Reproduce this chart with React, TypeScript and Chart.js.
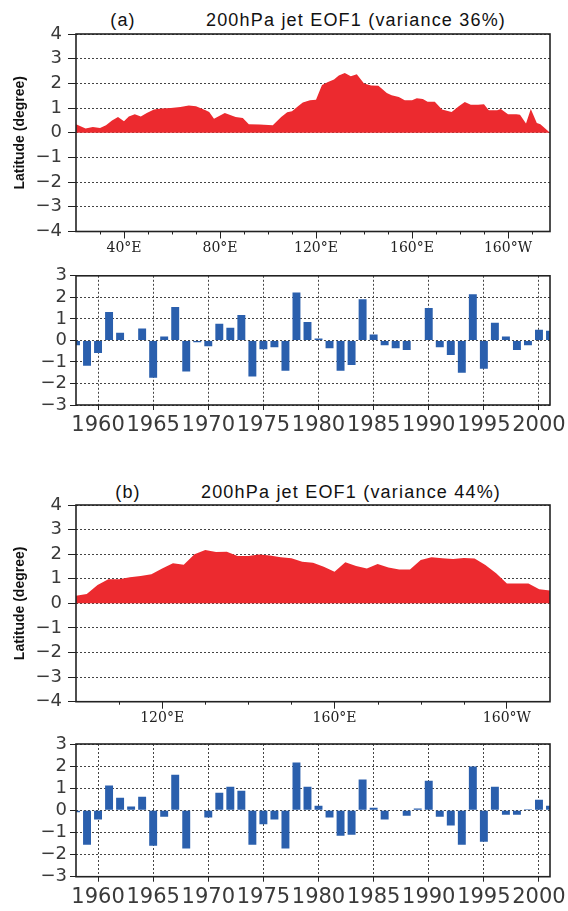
import React, { useEffect, useRef } from "react";
import { Chart, registerables } from "chart.js";

Chart.register(...registerables);

// ---------- data ----------
const lonA = [20, 24, 27, 30, 32.5, 35, 37.5, 40, 42, 44.5, 47, 49.5, 52.5, 55.5, 59.5, 63.5, 67, 70, 74, 75.5, 77.5, 82, 86.5, 89.5, 92, 96.5, 102, 105.5, 108, 110, 112.5, 114.5, 117.5, 120, 122.5, 125, 127.5, 129.5, 132, 134.5, 137, 140, 143, 146, 149.5, 151.5, 154.5, 157, 160, 162, 164.5, 166.5, 169.5, 172.5, 176.5, 179.5, 182, 184.5, 187.5, 190, 192, 195.5, 197, 200, 203.5, 205, 207.5, 209.5, 212, 213.5, 217.5];
const eofA = [0.34, 0.17, 0.23, 0.19, 0.3, 0.5, 0.64, 0.47, 0.66, 0.75, 0.66, 0.8, 0.94, 0.98, 1.0, 1.04, 1.1, 1.07, 0.91, 0.84, 0.57, 0.8, 0.64, 0.6, 0.34, 0.33, 0.3, 0.64, 0.83, 0.87, 1.07, 1.23, 1.32, 1.34, 1.93, 2.06, 2.16, 2.32, 2.42, 2.29, 2.37, 2.0, 1.91, 1.9, 1.61, 1.52, 1.45, 1.32, 1.32, 1.4, 1.37, 1.26, 1.26, 0.94, 0.84, 1.07, 1.25, 1.13, 1.13, 1.15, 0.91, 0.91, 0.96, 0.75, 0.75, 0.73, 0.37, 0.96, 0.39, 0.34, 0.0];

const lonB = [100, 102.5, 105, 107.5, 110, 112.5, 115, 117.5, 120, 122.5, 125, 127.5, 130, 132.5, 135, 137.5, 140, 142.5, 145, 147.5, 150, 152.5, 155, 157.5, 160, 162.5, 165, 167.5, 170, 172.5, 175, 177.5, 180, 182.5, 185, 187.5, 190, 192.5, 195, 197.5, 200, 202.5, 205, 207.5, 210];
const eofB = [0.31, 0.38, 0.75, 0.98, 0.98, 1.06, 1.11, 1.18, 1.42, 1.63, 1.57, 2.0, 2.17, 2.09, 2.1, 1.93, 1.93, 1.99, 1.95, 1.87, 1.83, 1.69, 1.65, 1.49, 1.29, 1.67, 1.52, 1.42, 1.6, 1.46, 1.38, 1.38, 1.76, 1.87, 1.83, 1.8, 1.84, 1.82, 1.56, 1.22, 0.81, 0.81, 0.81, 0.57, 0.52];

const years = [1958, 1959, 1960, 1961, 1962, 1963, 1964, 1965, 1966, 1967, 1968, 1969, 1970, 1971, 1972, 1973, 1974, 1975, 1976, 1977, 1978, 1979, 1980, 1981, 1982, 1983, 1984, 1985, 1986, 1987, 1988, 1989, 1990, 1991, 1992, 1993, 1994, 1995, 1996, 1997, 1998, 1999, 2000, 2001];
const pcA = [-0.23, -1.18, -0.59, 1.32, 0.36, 0.0, 0.55, -1.73, 0.18, 1.55, -1.45, -0.09, -0.27, 0.77, 0.59, 1.18, -1.68, -0.41, -0.32, -1.41, 2.23, 0.86, 0.09, -0.36, -1.41, -1.14, 1.91, 0.27, -0.23, -0.36, -0.45, -0.03, 1.5, -0.32, -0.68, -1.5, 2.14, -1.32, 0.82, 0.18, -0.45, -0.23, 0.5, 0.45];
const pcB = [-0.09, -1.55, -0.41, 1.12, 0.57, 0.17, 0.62, -1.6, -0.29, 1.61, -1.73, 0.0, -0.32, 0.8, 1.07, 0.89, -1.55, -0.63, -0.41, -1.73, 2.16, 1.07, 0.21, -0.32, -1.15, -1.1, 1.39, 0.12, -0.41, 0.0, -0.24, 0.08, 1.34, -0.29, -0.69, -1.55, 1.98, -1.42, 1.07, -0.2, -0.2, 0.05, 0.48, 0.21];

const yearTicks = [1960, 1965, 1970, 1975, 1980, 1985, 1990, 1995, 2000];
const lonTicksA = [40, 80, 120, 160, 200];
const lonMinorA = [30, 50, 60, 70, 90, 100, 110, 130, 140, 150, 170, 180, 190, 210];
const lonTicksB = [120, 160, 200];
const lonMinorB = [110, 130, 140, 150, 170, 180, 190];
const latTicks = [-4, -3, -2, -1, 0, 1, 2, 3, 4];
const pcTicks = [-3, -2, -1, 0, 1, 2, 3];

const panelLabelA = "(a)";
const panelLabelB = "(b)";
const titleA = "200hPa jet EOF1 (variance 36%)";
const titleB = "200hPa jet EOF1 (variance 44%)";
const yTitle = "Latitude (degree)";

// ---------- styles ----------
const RED = "#ec2a2f";
const BLUE = "#2a5fad";
const GRID = "#444";
const AXIS = "#222";
const TICKTXT = "#3a3a3a";
const W = 568;
const LEFT = 76;
const RIGHT_PAD = 18;

const numLabel = (v: number) => (v < 0 ? "\u2212" + Math.abs(v) : String(v));
const lonLabel = (v: number) =>
  v < 180 ? `${v}°E` : v === 180 ? "180°" : `${360 - v}°W`;

const framePlugin = {
  id: "frame",
  afterDatasetsDraw(chart: any, _args: any, opts: any) {
    const { ctx, chartArea } = chart;
    const { left, right, top, bottom } = chartArea;
    ctx.save();
    const minors: number[] = (opts && opts.minors) || [];
    if (minors.length) {
      const xs = chart.scales.x;
      ctx.strokeStyle = AXIS;
      ctx.lineWidth = 1;
      ctx.beginPath();
      minors.forEach((m) => {
        const px = Math.round(xs.getPixelForValue(m)) + 0.5;
        ctx.moveTo(px, bottom);
        ctx.lineTo(px, bottom + 3);
      });
      ctx.stroke();
    }
    ctx.strokeStyle = AXIS;
    ctx.lineWidth = 1.6;
    ctx.strokeRect(left, top, right - left, bottom - top);
    ctx.restore();
  },
};

function setTicks(vals: number[]) {
  return (scale: any) => {
    scale.ticks = vals.map((v) => ({ value: v }));
  };
}

function fixX(h: number) {
  return (s: any) => {
    s.height = h;
    s.paddingLeft = 0;
    s.paddingRight = 0;
  };
}

function areaConfig(lons: number[], vals: number[], ticks: number[], minors: number[], xmin: number, xmax: number, padTop: number, xH: number) {
  return {
    type: "line",
    data: {
      datasets: [
        {
          data: lons.map((x, i) => ({ x, y: vals[i] })),
          fill: "origin",
          backgroundColor: RED,
          borderColor: RED,
          borderWidth: 0,
          pointRadius: 0,
          tension: 0,
        },
      ],
    },
    options: {
      animation: false,
      responsive: false,
      events: [],
      layout: { padding: { top: padTop, right: RIGHT_PAD, bottom: 0, left: 0 } },
      plugins: { legend: { display: false }, tooltip: { enabled: false }, frame: { minors } },
      scales: {
        x: {
          type: "linear",
          min: xmin,
          max: xmax,
          afterBuildTicks: setTicks(ticks),
          afterFit: fixX(xH),
          grid: { drawOnChartArea: false, drawTicks: true, tickLength: 7, tickColor: AXIS, tickWidth: 1 },
          border: { display: false },
          ticks: {
            autoSkip: false,
            maxRotation: 0,
            padding: 1,
            color: "#222",
            font: { family: "DejaVu Serif", size: 14 },
            callback: (v: any) => lonLabel(Number(v)),
          },
        },
        y: {
          min: -4,
          max: 4,
          afterBuildTicks: setTicks(latTicks),
          afterFit: (s: any) => { s.width = LEFT; },
          grid: { color: GRID, lineWidth: 1, drawTicks: true, tickLength: 8, tickColor: AXIS },
          border: { display: false, dash: [2, 2] },
          ticks: {
            autoSkip: false,
            padding: 6,
            color: TICKTXT,
            font: { family: "DejaVu Sans", size: 18 },
            callback: (v: any) => numLabel(Number(v)),
          },
          title: {
            display: true,
            text: yTitle,
            color: "#111",
            font: { family: "Liberation Sans", size: 14, weight: "bold" },
            padding: { top: 11.6, bottom: 0 },
          },
        },
      },
    },
    plugins: [framePlugin],
  };
}

function barConfig(vals: number[], padTop: number, xH: number) {
  return {
    type: "bar",
    data: {
      datasets: [
        {
          data: years.map((x, i) => ({ x, y: vals[i] })),
          backgroundColor: BLUE,
          borderWidth: 0,
          categoryPercentage: 0.8,
          barPercentage: 0.9,
        },
      ],
    },
    options: {
      animation: false,
      responsive: false,
      events: [],
      layout: { padding: { top: padTop, right: RIGHT_PAD, bottom: 0, left: 0 } },
      plugins: { legend: { display: false }, tooltip: { enabled: false }, frame: { minors: [] } },
      scales: {
        x: {
          type: "linear",
          min: 1958,
          max: 2001,
          offset: false,
          afterBuildTicks: setTicks(yearTicks),
          afterFit: fixX(xH),
          grid: { offset: false, color: GRID, lineWidth: 1, drawOnChartArea: true, drawTicks: true, tickLength: 5, tickColor: AXIS },
          border: { display: false, dash: [2, 2] },
          ticks: {
            autoSkip: false,
            maxRotation: 0,
            padding: 3,
            color: TICKTXT,
            font: { family: "DejaVu Sans", size: 21 },
            callback: (v: any) => String(v),
          },
        },
        y: {
          min: -3,
          max: 3,
          afterBuildTicks: setTicks(pcTicks),
          afterFit: (s: any) => { s.width = LEFT; },
          grid: { color: GRID, lineWidth: 1, drawTicks: true, tickLength: 6, tickColor: AXIS },
          border: { display: false, dash: [2, 2] },
          ticks: {
            autoSkip: false,
            padding: 3,
            color: TICKTXT,
            font: { family: "DejaVu Sans", size: 18 },
            callback: (v: any) => numLabel(Number(v)),
          },
        },
      },
    },
    plugins: [framePlugin],
  };
}

function Panel({ top, height, config }: { top: number; height: number; config: any }) {
  const ref = useRef<HTMLCanvasElement | null>(null);
  useEffect(() => {
    if (!ref.current) return;
    const chart = new Chart(ref.current, config);
    return () => chart.destroy();
  }, []);
  return (
    <canvas
      ref={ref}
      width={W}
      height={height}
      style={{ position: "absolute", left: 0, top, width: W, height }}
    />
  );
}

const titleStyle = (x: number, y: number): React.CSSProperties => ({
  position: "absolute",
  left: x,
  top: y,
  transform: "translate(-50%, -50%)",
  fontFamily: "'Liberation Sans', Arial, sans-serif",
  fontSize: 18,
  letterSpacing: "1.2px",
  lineHeight: 1,
  color: "#111",
  whiteSpace: "nowrap",
});

export default function App() {
  return (
    <div style={{ position: "absolute", left: 0, top: 0, width: W, height: 911, background: "#fff", overflow: "hidden" }}>
      <div style={titleStyle(123, 20)}>{panelLabelA}</div>
      <div style={titleStyle(356, 20)}>{titleA}</div>
      <Panel top={0} height={262} config={areaConfig(lonA, eofA, lonTicksA, lonMinorA, 20, 217.5, 34, 30.5)} />
      <Panel top={262} height={178} config={barConfig(pcA, 12, 35)} />
      <div style={titleStyle(128, 491.5)}>{panelLabelB}</div>
      <div style={titleStyle(351, 491.5)}>{titleB}</div>
      <Panel top={462} height={268} config={areaConfig(lonB, eofB, lonTicksB, lonMinorB, 100, 210, 43, 28.3)} />
      <Panel top={730} height={181} config={barConfig(pcB, 14, 34.3)} />
    </div>
  );
}
